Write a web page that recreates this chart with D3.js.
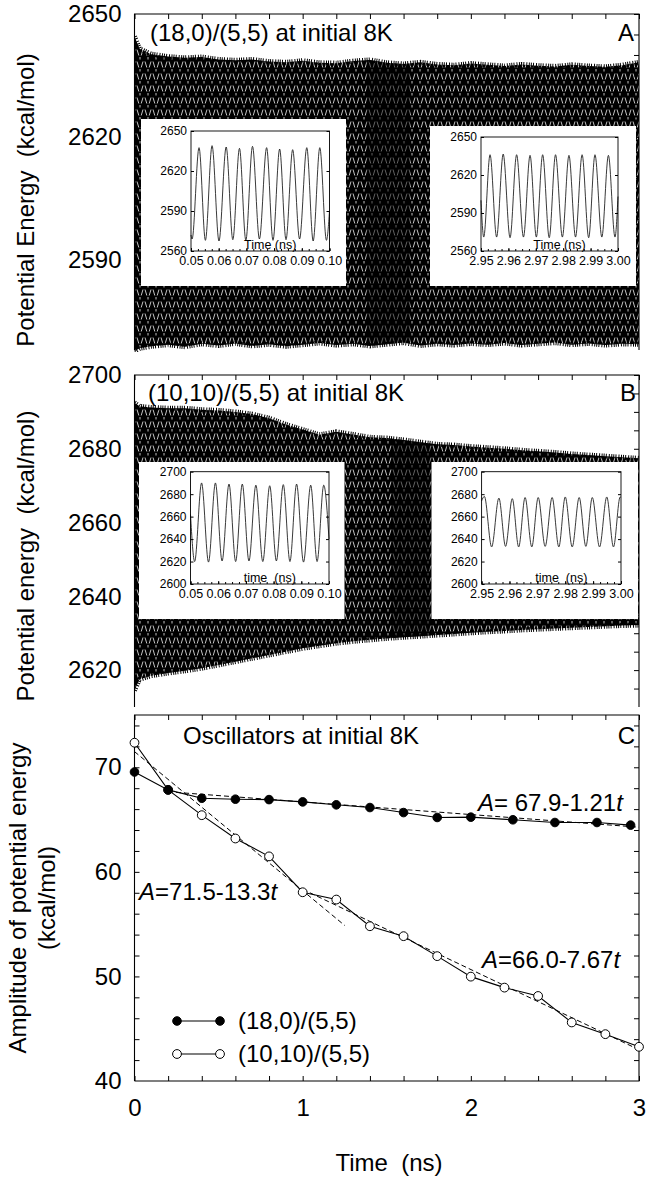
<!DOCTYPE html>
<html>
<head>
<meta charset="utf-8">
<script src="https://cdn.jsdelivr.net/npm/d3@7"></script>
<style>
body { margin: 0; background: #fff; }
text { font-family: "Liberation Sans", Arial, Helvetica, sans-serif; fill: #000; white-space: pre; }
</style>
</head>
<body>
<svg id="chart" width="646" height="1177"></svg>
<script>
// ---- data ----
var xTickLabels = [0, 1, 2, 3];
var yTicksA = [2590, 2620, 2650];
var yTicksB = [2620, 2640, 2660, 2680, 2700];
var yTicksC = [40, 50, 60, 70];

// envelope of the dense oscillation trace (panels A, B)
var envTime = [0, 0.03, 0.1, 0.2, 0.3, 0.4, 0.5, 0.6, 0.7, 0.8, 0.9, 1.0, 1.1, 1.2, 1.3, 1.4, 1.5,
  1.6, 1.7, 1.8, 1.9, 2.0, 2.1, 2.2, 2.3, 2.4, 2.5, 2.6, 2.7, 2.8, 2.9, 3.0];
var upperA = [2644.5, 2641.5, 2640.2, 2639.6, 2639.3, 2639.5, 2638.9, 2638.7, 2638.9, 2638.4, 2638.2,
  2638.6, 2638.1, 2638.0, 2638.5, 2638.8, 2638.1, 2637.8, 2638.2, 2637.7, 2637.5, 2637.9, 2637.6,
  2637.3, 2637.7, 2637.4, 2637.2, 2637.6, 2637.3, 2637.1, 2637.5, 2638.2];
var lowerA = [2567.6, 2568.4, 2568.9, 2569.3, 2568.8, 2569.5, 2569.1, 2569.6, 2569.0, 2569.4, 2568.9,
  2569.3, 2569.7, 2569.2, 2569.5, 2569.0, 2569.4, 2569.8, 2569.1, 2569.5, 2569.2, 2569.6, 2569.3,
  2569.7, 2569.2, 2569.5, 2569.8, 2569.3, 2569.6, 2569.2, 2569.5, 2569.4];
var upperB = [2692.5, 2691.5, 2691.2, 2691.0, 2691.0, 2690.6, 2690.4, 2690.0, 2689.4, 2688.3, 2686.6,
  2685.2, 2683.8, 2684.6, 2683.9, 2683.1, 2682.9, 2682.4, 2681.8, 2681.2, 2681.0, 2680.6, 2680.3,
  2680.0, 2679.6, 2679.3, 2679.0, 2678.6, 2678.3, 2678.0, 2677.7, 2677.4];
var lowerB = [2614.5, 2617.5, 2618.5, 2619.2, 2619.8, 2620.5, 2621.4, 2622.3, 2623.2, 2624.1, 2625.0,
  2625.9, 2626.6, 2627.3, 2627.8, 2628.2, 2628.6, 2628.9, 2629.2, 2629.5, 2629.8, 2630.1, 2630.4,
  2630.6, 2630.9, 2631.1, 2631.3, 2631.5, 2631.7, 2631.9, 2632.1, 2632.2];
// time spans where the trace prints solid black
var denseA = [1.38, 1.64];
var denseB = [1.53, 1.76];

// inset traces: successive extrema (time in ns, energy in kcal/mol)
var insA1t = [0.05, 0.0504, 0.0529, 0.0552, 0.0576, 0.0601, 0.0627, 0.0651, 0.0675, 0.0698, 0.0722,
  0.0747, 0.0773, 0.0796, 0.0820, 0.0843, 0.0867, 0.0892, 0.0918, 0.0941, 0.0965, 0.0989, 0.10];
var insA1e = [2572, 2569, 2637.5, 2568, 2639, 2567.5, 2638, 2568.5, 2637, 2568, 2638.5,
  2569, 2637.5, 2568, 2636.5, 2568.5, 2636, 2569, 2637.5, 2567.5, 2637.5, 2568, 2590];
var insA2t = [2.95, 2.9510, 2.9533, 2.9557, 2.9581, 2.9606, 2.9630, 2.9655, 2.9679, 2.9702, 2.9725,
  2.9749, 2.9772, 2.9797, 2.9821, 2.9845, 2.9869, 2.9893, 2.9916, 2.9941, 2.9965, 2.9989, 3.00];
var insA2e = [2600, 2571, 2636, 2571, 2636.5, 2570.5, 2636, 2571, 2635.5, 2571, 2636,
  2570.5, 2636, 2571, 2635.5, 2571, 2636, 2570.5, 2636, 2571, 2635.5, 2571, 2603];
var insB1t = [0.05, 0.0515, 0.0540, 0.0565, 0.0590, 0.0614, 0.0639, 0.0663, 0.0687, 0.0711, 0.0736,
  0.0761, 0.0786, 0.0810, 0.0835, 0.0859, 0.0883, 0.0908, 0.0934, 0.0957, 0.0981, 0.10];
var insB1e = [2662, 2620, 2690, 2619.5, 2690, 2620.5, 2689, 2620, 2689, 2620.5, 2688,
  2620, 2687.5, 2620.5, 2688.5, 2620, 2689, 2619.5, 2688, 2620, 2688, 2640];
var insB2t = [2.95, 2.9510, 2.9536, 2.9562, 2.9586, 2.9610, 2.9633, 2.9656, 2.9680, 2.9703, 2.9728,
  2.9753, 2.9777, 2.9800, 2.9825, 2.9850, 2.9874, 2.9897, 2.9923, 2.9949, 2.9973, 2.9997, 3.00];
var insB2e = [2674, 2678, 2633, 2676.5, 2633.5, 2676, 2633, 2677, 2633, 2677, 2633.5,
  2677, 2633, 2677.5, 2633, 2677, 2633.5, 2677, 2633, 2677.5, 2633, 2677.5, 2677];

// panel C amplitudes
var timeC18 = [0, 0.2, 0.4, 0.6, 0.8, 1.0, 1.2, 1.4, 1.6, 1.8, 2.0, 2.25, 2.5, 2.75, 2.95];
var ampC18 = [69.55, 67.84, 67.04, 66.95, 66.91, 66.69, 66.41, 66.15, 65.67, 65.20, 65.23, 64.98, 64.72, 64.72, 64.47];
var timeC10 = [0, 0.2, 0.4, 0.6, 0.8, 1.0, 1.2, 1.4, 1.6, 1.8, 2.0, 2.2, 2.4, 2.6, 2.8, 3.0];
var ampC10 = [72.35, 67.84, 65.42, 63.19, 61.48, 58.05, 57.35, 54.8, 53.85, 51.94, 49.98, 48.93, 48.13, 45.6, 44.48, 43.27];
// linear fits A = a + b t over [t0, t1]
var fitA = [67.9, 71.5, 66.0];
var fitB = [-1.21, -13.3, -7.67];
var fitT0 = [0.2, 0, 1.0];
var fitT1 = [3.0, 1.25, 3.0];

var svg = d3.select("#chart");
var font = 24;
var fmt = d3.format("d");

var x = d3.scaleLinear().domain([0, 3]).range([134.5, 639]);
var yA = d3.scaleLinear().domain([2568, 2650]).range([350, 14]);
var yB = d3.scaleLinear().domain([2610, 2700]).range([707, 375]);
var yC = d3.scaleLinear().domain([40, 75]).range([1081, 715]);

var defs = svg.append("defs");
var pat = defs.append("pattern").attr("id", "moire")
  .attr("patternUnits", "userSpaceOnUse").attr("width", 8).attr("height", 12);
pat.append("rect").attr("width", 8).attr("height", 12).attr("fill", "#000");
pat.append("path").attr("d", "M1,1.5 L2.8,7.5 M5.2,7.5 L7,1.5 M4,9 L4,11.5")
  .attr("stroke", "#fff").attr("stroke-width", 0.9).attr("opacity", 0.85);

function band(id, y, upper, lower, dense) {
  var clip = defs.append("clipPath").attr("id", "clip" + id);
  clip.append("rect").attr("x", x(0)).attr("y", y.range()[1] - 10)
    .attr("width", x(3) - x(0)).attr("height", y.range()[0] - y.range()[1] + 12);
  var denseClip = defs.append("clipPath").attr("id", "dense" + id);
  denseClip.append("rect").attr("x", x(dense[0])).attr("y", 0)
    .attr("width", x(dense[1]) - x(dense[0])).attr("height", 1177);

  var pts = envTime.map(function(t, i) { return {t: t, hi: upper[i], lo: lower[i]}; });
  var area = d3.area()
    .x(function(d) { return x(d.t); })
    .y0(function(d) { return y(d.lo); })
    .y1(function(d) { return y(d.hi); });
  var g = svg.append("g").attr("clip-path", "url(#clip" + id + ")");
  g.append("path").datum(pts).attr("d", area).attr("fill", "url(#moire)");
  g.append("path").datum(pts).attr("d", area).attr("fill", "#000")
    .attr("opacity", 0.5).attr("clip-path", "url(#dense" + id + ")");
  // ragged fringe along both edges
  ["hi", "lo"].forEach(function(k) {
    g.append("path").datum(pts)
      .attr("d", d3.line().x(function(d) { return x(d.t); }).y(function(d) { return y(d[k]); }))
      .attr("fill", "none").attr("stroke", "#000").attr("stroke-width", 5)
      .attr("stroke-dasharray", "1,1.2,1,2,1,1.5,1,1");
  });
}

function frame(y, ticks, minorStep, openBottom) {
  var top = y.range()[1], bot = y.range()[0];
  var g = svg.append("g");
  var d = "M" + x(0) + "," + bot + "V" + top + "H" + x(3) + "V" + bot;
  if (!openBottom) d += "H" + x(0);
  g.append("path").attr("d", d).attr("fill", "none").attr("stroke", "#000").attr("stroke-width", 1.1);
  var xt = d3.range(0, 3.001, 0.2);
  g.append("g").attr("transform", "translate(0," + top + ")")
    .call(d3.axisTop(x).tickValues(xt).tickSizeInner(-5).tickSizeOuter(0).tickFormat(""))
    .call(function(s) { s.select(".domain").remove(); });
  var yt = d3.range(y.domain()[0] - y.domain()[0] % minorStep + minorStep, y.domain()[1] + 0.01, minorStep);
  g.append("g").attr("transform", "translate(" + x(3) + ",0)")
    .call(d3.axisRight(y).tickValues(yt).tickSizeInner(-5).tickSizeOuter(0).tickFormat(""))
    .call(function(s) { s.select(".domain").remove(); });
  g.append("g").attr("transform", "translate(" + x(0) + ",0)")
    .call(d3.axisLeft(y).tickValues(ticks).tickSizeInner(0).tickSizeOuter(0).tickPadding(13).tickFormat(fmt))
    .call(function(s) {
      s.select(".domain").remove();
      s.selectAll("text").attr("font-size", font).attr("font-family", null);
    });
  return g;
}

function inset(box, plot, xDom, yDom, yt, xt, tArr, eArr, label) {
  var g = svg.append("g");
  g.append("rect").attr("x", box[0]).attr("y", box[1]).attr("width", box[2] - box[0])
    .attr("height", box[3] - box[1]).attr("fill", "#fff");
  var xi = d3.scaleLinear().domain(xDom).range([plot[0], plot[2]]);
  var yi = d3.scaleLinear().domain(yDom).range([plot[3], plot[1]]);
  var pts = tArr.map(function(t, i) { return [t, eArr[i]]; });
  g.append("path").datum(pts)
    .attr("d", d3.line().x(function(d) { return xi(d[0]); }).y(function(d) { return yi(d[1]); })
      .curve(d3.curveMonotoneX))
    .attr("fill", "none").attr("stroke", "#222").attr("stroke-width", 0.9);
  g.append("rect").attr("x", plot[0]).attr("y", plot[1]).attr("width", plot[2] - plot[0])
    .attr("height", plot[3] - plot[1]).attr("fill", "none").attr("stroke", "#000").attr("stroke-width", 0.9);
  var minor = d3.range(xDom[0], xDom[1] + 0.0001, 0.0025);
  g.append("g").attr("transform", "translate(0," + plot[3] + ")")
    .call(d3.axisBottom(xi).tickValues(minor).tickSizeInner(-2).tickSizeOuter(0).tickFormat(""))
    .call(function(s) { s.select(".domain").remove(); });
  g.append("g").attr("transform", "translate(0," + plot[3] + ")")
    .call(d3.axisBottom(xi).tickValues(xt).tickSizeInner(-3).tickSizeOuter(0).tickPadding(5)
      .tickFormat(d3.format(".2f")))
    .call(function(s) {
      s.select(".domain").remove();
      s.selectAll("text").attr("font-size", 12.5).attr("font-family", null);
    });
  g.append("g").attr("transform", "translate(" + plot[0] + ",0)")
    .call(d3.axisLeft(yi).tickValues(yt).tickSizeInner(-3).tickSizeOuter(0).tickPadding(4).tickFormat(fmt))
    .call(function(s) {
      s.select(".domain").remove();
      s.selectAll("text").attr("font-size", 12).attr("font-family", null);
    });
  g.append("g").attr("transform", "translate(" + plot[2] + ",0)")
    .call(d3.axisRight(yi).tickValues(yt).tickSizeInner(-3).tickSizeOuter(0).tickFormat(""))
    .call(function(s) { s.select(".domain").remove(); });
  g.append("text").attr("x", (plot[0] + plot[2]) / 2 + 10).attr("y", plot[3] - 2)
    .attr("text-anchor", "middle").attr("font-size", 12.5).text(label);
}

// ---- panel A ----
band("A", yA, upperA, lowerA, denseA);
frame(yA, yTicksA, 5, true);
inset([141, 119, 346, 286], [191, 131, 329.5, 251], [0.05, 0.10], [2560, 2650],
  [2560, 2590, 2620, 2650], [0.05, 0.06, 0.07, 0.08, 0.09, 0.10], insA1t, insA1e, "Time (ns)");
inset([430, 126, 636, 286], [481, 137, 618, 251], [2.95, 3.00], [2560, 2650],
  [2560, 2590, 2620, 2650], [2.95, 2.96, 2.97, 2.98, 2.99, 3.00], insA2t, insA2e, "Time (ns)");
svg.append("text").attr("x", 150).attr("y", 41).attr("font-size", font).text("(18,0)/(5,5) at initial 8K");
svg.append("text").attr("x", 634).attr("y", 41).attr("text-anchor", "end").attr("font-size", font).text("A");
svg.append("text").attr("transform", "translate(34,200) rotate(-90)").attr("text-anchor", "middle")
  .attr("font-size", font).text("Potential Energy  (kcal/mol)");

// ---- panel B ----
band("B", yB, upperB, lowerB, denseB);
frame(yB, yTicksB, 5, true);
inset([139, 462, 344.5, 619], [190.5, 471.7, 329, 584], [0.05, 0.10], [2600, 2700],
  [2600, 2620, 2640, 2660, 2680, 2700], [0.05, 0.06, 0.07, 0.08, 0.09, 0.10], insB1t, insB1e, "time  (ns)");
inset([431.5, 462, 638, 619], [481.6, 471.7, 621, 584], [2.95, 3.00], [2600, 2700],
  [2600, 2620, 2640, 2660, 2680, 2700], [2.95, 2.96, 2.97, 2.98, 2.99, 3.00], insB2t, insB2e, "time  (ns)");
svg.append("text").attr("x", 148).attr("y", 401).attr("font-size", font).text("(10,10)/(5,5) at initial 8K");
svg.append("text").attr("x", 636).attr("y", 401).attr("text-anchor", "end").attr("font-size", font).text("B");
svg.append("text").attr("transform", "translate(34,556) rotate(-90)").attr("text-anchor", "middle")
  .attr("font-size", font).text("Potential energy  (kcal/mol)");

// ---- panel C ----
var gC = frame(yC, yTicksC, 2, false);
gC.append("g").attr("transform", "translate(0," + yC.range()[0] + ")")
  .call(d3.axisBottom(x).tickValues(d3.range(0, 3.001, 0.2)).tickSizeInner(-5).tickSizeOuter(0)
    .tickPadding(18).tickFormat(function(d) { return xTickLabels.indexOf(Math.round(d * 10) / 10) >= 0 ? fmt(d) : ""; }))
  .call(function(s) {
    s.select(".domain").remove();
    s.selectAll("text").attr("font-size", font).attr("font-family", null);
  });
gC.append("g").attr("transform", "translate(" + x(0) + ",0)")
  .call(d3.axisLeft(yC).tickValues(d3.range(42, 75, 2)).tickSizeInner(-5).tickSizeOuter(0).tickFormat(""))
  .call(function(s) { s.select(".domain").remove(); });

// fitted lines (dashed)
fitA.forEach(function(a, i) {
  var seg = [fitT0[i], fitT1[i]].map(function(t) { return [t, a + fitB[i] * t]; });
  svg.append("path").datum(seg)
    .attr("d", d3.line().x(function(d) { return x(d[0]); }).y(function(d) { return yC(d[1]); }))
    .attr("fill", "none").attr("stroke", "#000").attr("stroke-width", 1).attr("stroke-dasharray", "5,3");
});

function series(ts, vs, filled) {
  var pts = ts.map(function(t, i) { return [t, vs[i]]; });
  svg.append("path").datum(pts)
    .attr("d", d3.line().x(function(d) { return x(d[0]); }).y(function(d) { return yC(d[1]); }))
    .attr("fill", "none").attr("stroke", "#000").attr("stroke-width", 1.1);
  svg.selectAll(null).data(pts).enter().append("circle")
    .attr("cx", function(d) { return x(d[0]); })
    .attr("cy", function(d) { return yC(d[1]); })
    .attr("r", filled ? 4.3 : 4.4)
    .attr("fill", filled ? "#000" : "#fff")
    .attr("stroke", "#000").attr("stroke-width", 1);
}
series(timeC10, ampC10, false);
series(timeC18, ampC18, true);

svg.append("text").attr("x", 183).attr("y", 744).attr("font-size", font).text("Oscillators at initial 8K");
svg.append("text").attr("x", 635).attr("y", 744).attr("text-anchor", "end").attr("font-size", font).text("C");

function fitLabel(xp, yp, parts) {
  var t = svg.append("text").attr("x", xp).attr("y", yp).attr("font-size", font);
  t.append("tspan").attr("font-style", "italic").text("A");
  t.append("tspan").text(parts);
  t.append("tspan").attr("font-style", "italic").text("t");
}
fitLabel(478, 811, "= 67.9-1.21");
fitLabel(139, 900, "=71.5-13.3");
fitLabel(482, 968, "=66.0-7.67");

// legend
[["(18,0)/(5,5)", true, 1021], ["(10,10)/(5,5)", false, 1054]].forEach(function(row) {
  var lg = svg.append("g");
  lg.append("line").attr("x1", 177).attr("x2", 220).attr("y1", row[2]).attr("y2", row[2])
    .attr("stroke", "#000").attr("stroke-width", 1.1);
  [177, 220].forEach(function(cx) {
    lg.append("circle").attr("cx", cx).attr("cy", row[2]).attr("r", row[1] ? 4.3 : 4.4)
      .attr("fill", row[1] ? "#000" : "#fff").attr("stroke", "#000");
  });
  lg.append("text").attr("x", 238).attr("y", row[2] + 8).attr("font-size", font).text(row[0]);
});

svg.append("text").attr("transform", "translate(26,898) rotate(-90)").attr("text-anchor", "middle")
  .attr("font-size", font).text("Amplitude of potential energy");
svg.append("text").attr("transform", "translate(55,898) rotate(-90)").attr("text-anchor", "middle")
  .attr("font-size", font).text("(kcal/mol)");

svg.append("text").attr("x", 389).attr("y", 1171).attr("text-anchor", "middle")
  .attr("font-size", font).text("Time  (ns)");
</script>
</body>
</html>
